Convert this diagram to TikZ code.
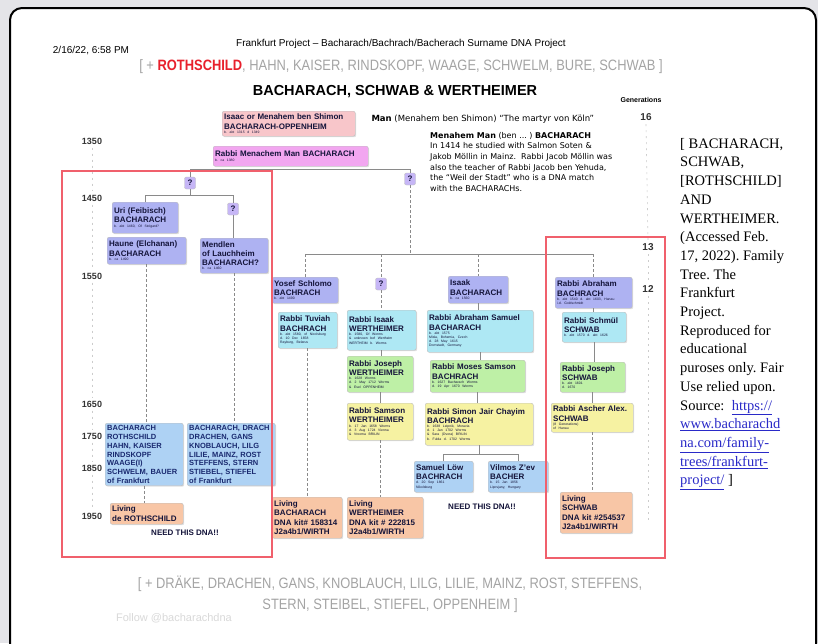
\documentclass[tikz,border=0pt]{standalone}
\usepackage{fontspec}
\setmainfont{Liberation Serif}
\setsansfont{Liberation Sans}
\newfontfamily\narrowsans[FakeStretch=0.86]{Liberation Sans}
\newfontfamily\notefont{DejaVu Sans}
\usetikzlibrary{shadows}

\definecolor{pagegrey}{HTML}{E4E4E8}
\definecolor{redframe}{HTML}{F0606C}
\definecolor{pinkbox}{HTML}{F8C6CA}
\definecolor{magbox}{HTML}{F2A6F0}
\definecolor{violetbox}{HTML}{AEB2F2}
\definecolor{qfill}{HTML}{C6B6F6}
\definecolor{cyanbox}{HTML}{AEE8F4}
\definecolor{greenbox}{HTML}{BEF0A6}
\definecolor{yellowbox}{HTML}{F6F2A2}
\definecolor{bluebox}{HTML}{AED2F4}
\definecolor{peachbox}{HTML}{F8C6A6}
\definecolor{linegrey}{HTML}{8A8A8A}
\definecolor{surgrey}{HTML}{A4A4A4}
\definecolor{rothred}{HTML}{E8202C}
\definecolor{linkblue}{HTML}{2A2AC8}
\definecolor{nameink}{HTML}{14143A}
\definecolor{navyink}{HTML}{1A2A70}

\frenchspacing
\newcommand{\tinytext}[1]{\par{\fontsize{3.4}{4.2}\selectfont\mdseries #1\par}}

\begin{document}
\begin{tikzpicture}[x=1pt, y=-1pt]
  \tikzstyle{box} = [draw=black!25, rounded corners=2pt, anchor=north west, inner xsep=2pt, inner ysep=2.5pt, align=left,
                     font=\sffamily\bfseries\fontsize{8}{9.3}\selectfont, text=nameink,
                     drop shadow={shadow xshift=1pt, shadow yshift=-1pt, opacity=0.25}]
  \tikzstyle{qmark} = [draw=black!25, fill=qfill, rounded corners=2pt, minimum width=11pt, minimum height=12pt,
                       inner sep=0pt, font=\sffamily\bfseries\fontsize{8}{9}\selectfont, text=nameink]
  \tikzstyle{link} = [draw=linegrey, line width=0.8pt]
  \tikzstyle{dlink} = [link, dash pattern=on 3pt off 2pt]
  \tikzstyle{axis} = [draw=black!20, line width=0.6pt, dash pattern=on 2pt off 4pt]
  \tikzstyle{year} = [font=\sffamily\bfseries\fontsize{9}{10}\selectfont, text=black!80]
  \tikzstyle{redbox} = [draw=redframe, line width=2.5pt]
  \tikzstyle{need} = [font=\sffamily\bfseries\fontsize{8}{9}\selectfont, text=nameink]

  \useasboundingbox (0,0) rectangle (818,643);
  \fill[pagegrey] (0,0) rectangle (818,643);
  \draw[line width=2pt, fill=white, rounded corners=12pt] (10,8) rectangle (816,690);

  % page header
  \node[font=\sffamily\fontsize{10}{12}\selectfont] (date) at (91,51) {2/16/22, 6:58 PM};
  \node[font=\sffamily\fontsize{10}{12}\selectfont] (project) at (401,44)
    {Frankfurt Project – Bacharach/Bachrach/Bacherach Surname DNA Project};
  \node[font=\narrowsans\fontsize{15}{17}\selectfont, text=surgrey] (surnames) at (401,67)
    {[ + \textcolor{rothred}{\bfseries ROTHSCHILD}, HAHN, KAISER, RINDSKOPF, WAAGE, SCHWELM, BURE, SCHWAB ]};
  \node[font=\sffamily\bfseries\fontsize{14.5}{17}\selectfont] (title) at (395,92)
    {BACHARACH, SCHWAB \& WERTHEIMER};

  % generations scale
  \node[font=\sffamily\bfseries\fontsize{7}{8}\selectfont] (gens) at (641,100) {Generations};
  \node[year, font=\sffamily\bfseries\fontsize{10}{11}\selectfont] (g16) at (646,117) {16};
  \node[year, font=\sffamily\bfseries\fontsize{10}{11}\selectfont] (g13) at (648,247) {13};
  \node[year, font=\sffamily\bfseries\fontsize{10}{11}\selectfont] (g12) at (648,289) {12};
  \coordinate (gend) at (648,522);
  \draw[axis] (g16.south) -- (g13.north);
  \draw[axis] (g13.south) -- (g12.north);
  \draw[axis] (g12.south) -- (gend);

  % years
  \foreach \yr/\ypos in {1350/141, 1450/198, 1550/276, 1650/404, 1750/436, 1850/468, 1950/516}
    \node[year] (y\yr) at (92,\ypos) {\yr};
  \foreach \a/\b in {1350/1450, 1450/1550, 1550/1650, 1650/1750, 1750/1850, 1850/1950}
    \draw[axis] (y\a.south) -- (y\b.north);

  % top of the tree
  \node[box, fill=pinkbox, text width=129pt, minimum height=25pt] (isaac) at (222,111)
    {Isaac or Menahem ben Shimon\\BACHARACH-OPPENHEIM\tinytext{b. abt 1315 d 1349}};
  \node[anchor=west, font=\notefont\fontsize{8.5}{10}\selectfont] (martyr) at (368,119)
    {\textbf{Man} (Menahem ben Shimon) “The martyr von Köln”};
  \node[box, fill=magbox, text width=151pt, minimum height=20pt] (menachem) at (213,146)
    {Rabbi Menachem Man BACHARACH\tinytext{b. ca 1380}};
  \node[anchor=north west, align=left, inner sep=0pt, font=\notefont\fontsize{8}{10.6}\selectfont] (note) at (430,132)
    {\textbf{Menahem Man} (ben ... ) \textbf{BACHARACH}\\
     In 1414 he studied with Salmon Soten \&\\
     Jakob Möllin in Mainz.\ \ Rabbi Jacob Möllin was\\
     also the teacher of Rabbi Jacob ben Yehuda,\\
     the “Weil der Stadt” who is a DNA match\\
     with the BACHARACHs.};

  % left branch
  \node[qmark] (q1) at (190,183) {?};
  \node[qmark] (q2) at (233,209) {?};
  \node[box, fill=violetbox, text width=62pt, minimum height=31pt] (uri) at (112,202)
    {Uri (Feibisch)\\BACHARACH\tinytext{b. abt 1460, Of Stolgard?}};
  \node[box, fill=violetbox, text width=75pt, minimum height=27pt] (haune) at (107,237)
    {Haune (Elchanan)\\BACHARACH\tinytext{b. ca 1490}};
  \node[box, fill=violetbox, text width=64pt, minimum height=35pt] (mendlen) at (200,238)
    {Mendlen\\of Lauchheim\\BACHARACH?\tinytext{b. ca 1460}};
  \node[box, fill=bluebox, text width=74pt, minimum height=61pt, text=navyink,
        font=\sffamily\bfseries\fontsize{7.5}{8.7}\selectfont] (roth1) at (105,423)
    {BACHARACH\\ROTHSCHILD\\HAHN, KAISER\\RINDSKOPF\\WAAGE(I)\\SCHWELM, BAUER\\of Frankfurt};
  \node[box, fill=bluebox, text width=84pt, minimum height=61pt, text=navyink,
        font=\sffamily\bfseries\fontsize{7.5}{8.7}\selectfont] (roth2) at (187,423)
    {BACHARACH, DRACH\\DRACHEN, GANS\\KNOBLAUCH, LILG\\LILIE, MAINZ, ROST\\STEFFENS, STERN\\STIEBEL, STIEFEL\\of Frankfurt};
  \node[box, fill=peachbox, text width=69pt, minimum height=21pt] (livingroth) at (110,503)
    {Living\\de ROTHSCHILD};
  \node[need] (need1) at (185,533) {NEED THIS DNA!!};

  % right branch
  \node[qmark] (q3) at (410,179) {?};
  \node[qmark] (q4) at (381,284) {?};
  \node[box, fill=violetbox, text width=62pt, minimum height=26pt] (yosef) at (272,277)
    {Yosef Schlomo\\BACHRACH\tinytext{b. abt 1490}};
  \node[box, fill=violetbox, text width=56pt, minimum height=27pt] (isaak) at (448,276)
    {Isaak\\BACHARACH\tinytext{b. ca 1560}};
  \node[box, fill=violetbox, text width=73pt, minimum height=31pt] (abraham) at (555,277)
    {Rabbi Abraham\\BACHRACH\tinytext{b. abt 1540 d. abt 1603, Hanau\\i.d. Goldschmidt}};
  \node[box, fill=cyanbox, text width=55pt, minimum height=36pt] (tuviah) at (278,312)
    {Rabbi Tuviah\\BACHRACH\tinytext{b. abt 1580, of Nicolsburg\\d. 10 Dec 1658\\Rayburg, Belarus}};
  \node[box, fill=cyanbox, text width=65pt, minimum height=40pt] (isaakw) at (347,310)
    {Rabbi Isaak\\WERTHEIMER\tinytext{b. 1580, Of Worms\\\& unknown bef Wertheim\\WERTHEIM b. Worms}};
  \node[box, fill=cyanbox, text width=102pt, minimum height=42pt] (abrsam) at (427,310)
    {Rabbi Abraham Samuel\\BACHARACH\tinytext{b. abt 1575\\Misla, Bohemia, Czech\\d. 28 May 1615\\Dornstadt, Germany}};
  \node[box, fill=cyanbox, text width=60pt, minimum height=30pt] (schmuel) at (562,312)
    {Rabbi Schmül\\SCHWAB\tinytext{b. abt 1570 d. abt 1626}};
  \node[box, fill=greenbox, text width=62pt, minimum height=36pt] (josephw) at (347,356)
    {Rabbi Joseph\\WERTHEIMER\tinytext{b. 1628 Worms\\d. 2 May 1712 Worms\\\& Esel OPPENHEIM}};
  \node[box, fill=greenbox, text width=91pt, minimum height=32pt] (moses) at (430,360)
    {Rabbi Moses Samson\\BACHRACH\tinytext{b. 1627 Bacharach Worms\\d. 19 Apr 1670 Worms}};
  \node[box, fill=greenbox, text width=61pt, minimum height=30pt] (josephs) at (560,362)
    {Rabbi Joseph\\SCHWAB\tinytext{b. abt 1601\\d. 1670}};
  \node[box, fill=yellowbox, text width=62pt, minimum height=37pt] (samsonw) at (347,403)
    {Rabbi Samson\\WERTHEIMER\tinytext{b. 17 Jan 1658 Worms\\d. 3 Aug 1724 Vienna\\\& Vrooma BRILIN}};
  \node[box, fill=yellowbox, text width=104pt, minimum height=42pt] (simon) at (425,403)
    {Rabbi Simon Jair Chayim\\BACHRACH\tinytext{b. 1638 Leipnik, Moravia\\d. 1 Jan 1702 Worms\\\& Sara (Dvora) BRILIN\\b. Fulda d. 1702 Worms}};
  \node[box, fill=yellowbox, text width=78pt, minimum height=29pt] (ascher) at (551,403)
    {Rabbi Ascher Alex.\\SCHWAB\tinytext{(8 Generations)\\of Hanau}};
  \node[box, fill=bluebox, text width=55pt, minimum height=31pt] (samuel) at (414,461)
    {Samuel Löw\\BACHRACH\tinytext{d. 20 Sep 1861\\Nikolsburg}};
  \node[box, fill=bluebox, text width=56pt, minimum height=31pt] (vilmos) at (488,461)
    {Vilmos Z'ev\\BACHER\tinytext{b. 15 Jan 1856\\Lipovjany, Hungary}};
  \node[box, fill=peachbox, text width=66pt, minimum height=41pt] (livingb) at (272,497)
    {Living\\BACHARACH\\DNA kit\# 158314\\J2a4b1/WIRTH};
  \node[box, fill=peachbox, text width=72pt, minimum height=41pt] (livingw) at (347,497)
    {Living\\WERTHEIMER\\DNA kit \# 222815\\J2a4b1/WIRTH};
  \node[box, fill=peachbox, text width=68pt, minimum height=41pt] (livings) at (560,492)
    {Living\\SCHWAB\\DNA kit \#254537\\J2a4b1/WIRTH};
  \node[need] (need2) at (482,507) {NEED THIS DNA!!};

  % connectors
  \draw[link] (q1.north) |- ([yshift=-3pt]menachem.south) -| (q3.north);
  \draw[link] (q1.south) -- ([yshift=-6pt]q1.south);
  \draw[link] (uri.north) |- ([yshift=-6pt]q1.south) -| (q2.north);
  \draw[link] (q2.south) -- (q2.south |- mendlen.north);

  \coordinate (fork13) at (410,254);
  \draw[dlink] (q3.south) -- (fork13);
  \draw[link] (yosef.north |- fork13) -- (abraham.north |- fork13);
  \foreach \n in {yosef, q4, isaak, abraham}
    \draw[dlink] (\n.north |- fork13) -- (\n.north);

  \foreach \a/\b in {isaakw/josephw, josephw/samsonw, isaak/abrsam, abrsam/moses, moses/simon,
                     abraham/schmuel, schmuel/josephs, josephs/ascher}
    \draw[link] (\a.south) -- (\a.south |- \b.north);
  \foreach \a/\b in {haune/roth1, mendlen/roth2, roth1/livingroth, tuviah/livingb,
                     q4/isaakw, samsonw/livingw, ascher/livings}
    \draw[dlink] (\a.south) -- (\a.south |- \b.north);

  \draw[link] (simon.south) -- ([yshift=-9pt]simon.south);
  \draw[link] (samuel.north) |- ([yshift=-9pt]simon.south) -| (vilmos.north);

  % groups
  \draw[redbox] (62,171) rectangle (272,557);
  \draw[redbox] (546,237) rectangle (665,558);

  % citation
  \node[anchor=north west, align=left, inner sep=0pt, font=\fontsize{14.5}{18.7}\selectfont] (cite) at (680,138)
    {[ BACHARACH,\\SCHWAB,\\{}[ROTHSCHILD]\\AND\\WERTHEIMER.\\(Accessed Feb.\\17, 2022). Family\\Tree. The\\Frankfurt\\Project.\\
     Reproduced for\\educational\\puroses only. Fair\\Use relied upon.\\
     Source:\ \ \textcolor{linkblue}{\underline{https://}}\\\textcolor{linkblue}{\underline{www.bacharachd}}\\
     \textcolor{linkblue}{\underline{na.com/family-}}\\\textcolor{linkblue}{\underline{trees/frankfurt-}}\\
     \textcolor{linkblue}{\underline{project/}} ]};

  % footer
  \node[font=\narrowsans\fontsize{15}{21}\selectfont, text=surgrey, align=center] (more) at (390,594)
    {[ + DRÄKE, DRACHEN, GANS, KNOBLAUCH, LILG, LILIE, MAINZ, ROST, STEFFENS,\\STERN, STEIBEL, STIEFEL, OPPENHEIM ]};
  \node[font=\sffamily\fontsize{11}{12}\selectfont, text=black!15] (follow) at (174,618) {Follow @bacharachdna};
\end{tikzpicture}
\end{document}
